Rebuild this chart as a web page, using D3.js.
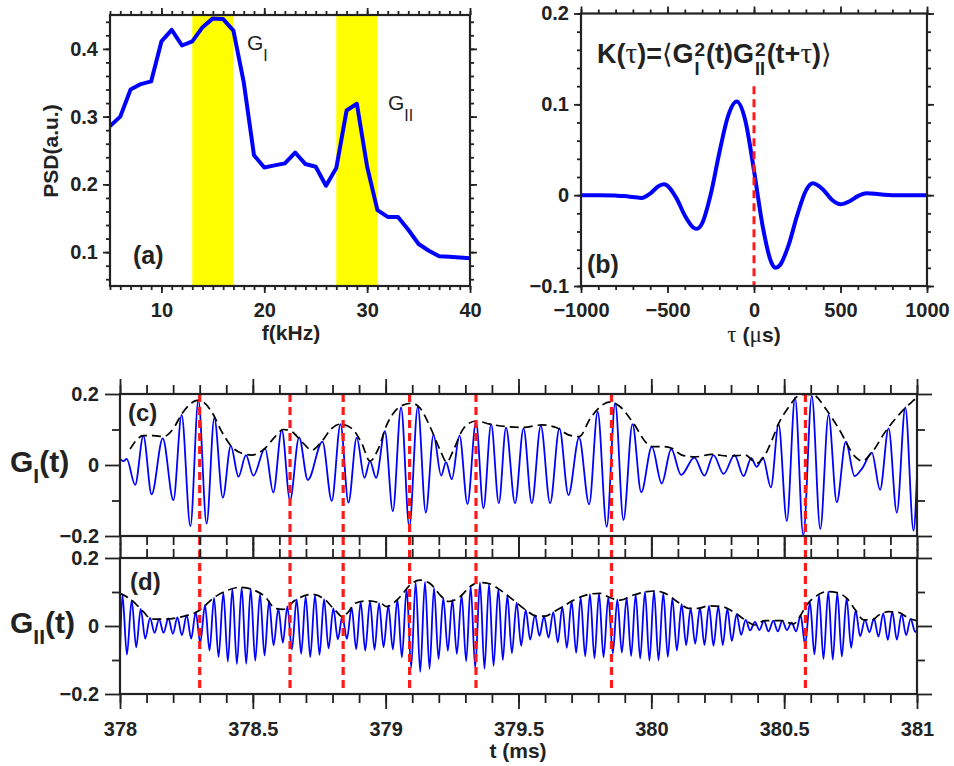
<!DOCTYPE html>
<html>
<head>
<meta charset="utf-8">
<script src="https://cdn.jsdelivr.net/npm/d3@7"></script>
<style>
  body { margin: 0; background: #fff; }
  svg { display: block; }
</style>
</head>
<body>
<script>
// ---------- data ----------
// (a) power spectrum, one point per kHz from 5 to 40
const freq = d3.range(5, 41);
const psd = [0.286, 0.300, 0.340, 0.348, 0.352, 0.411, 0.428, 0.405, 0.411, 0.432,
             0.445, 0.444, 0.427, 0.351, 0.243, 0.225, 0.228, 0.231, 0.247, 0.230,
             0.226, 0.198, 0.224, 0.309, 0.319, 0.226, 0.162, 0.152, 0.152, 0.133,
             0.112, 0.102, 0.094, 0.093, 0.092, 0.091];
const bands = [[13, 17], [27, 31]];
const fTicks = [10, 20, 30, 40];
const psdTicks = [0.1, 0.2, 0.3, 0.4];

// (b) correlation K(tau), tau in microseconds
const tau = [-1000, -900, -800, -750, -700, -650, -600, -550, -520, -450, -400, -350, -330,
             -300, -250, -200, -150, -100, -50, 0, 50, 100, 125, 150, 200, 250, 300, 340,
             400, 450, 500, 550, 600, 650, 700, 750, 800, 900, 1000];
const kVal = [0, 0, -0.0005, -0.001, -0.002, -0.003, 0.0018, 0.0101, 0.012, -0.0027, -0.0223, -0.0357, -0.037,
              -0.031, 0.001, 0.047, 0.087, 0.103, 0.082, 0.027, -0.034, -0.074, -0.080, -0.077, -0.055, -0.022, 0.005, 0.013,
              0.006, -0.005, -0.010, -0.007, -0.001, 0.002, 0.0015, 0.0005, 0, 0, 0];
const tauTicks = [-1000, -500, 0, 500, 1000];
const kTicks = [-0.1, 0, 0.1, 0.2];

// (c),(d) time traces: [t - 378 ms, value] at the turning points
const T0 = 378;
const gI = [[0,0.017],[0.013,0.011],[0.025,0.017],[0.057,-0.056],[0.088,0.082],[0.119,-0.083],[0.161,0.075],[0.201,-0.099],[0.232,0.141],[0.265,-0.172],[0.295,0.183],[0.326,-0.165],[0.355,0.133],[0.387,-0.092],[0.417,0.054],[0.446,-0.033],[0.474,0.028],[0.502,-0.030],[0.546,0.047],[0.577,-0.077],[0.609,0.099],[0.640,-0.099],[0.674,0.078],[0.707,-0.042],[0.762,0.066],[0.797,-0.101],[0.830,0.115],[0.860,-0.106],[0.891,0.077],[0.920,-0.036],[0.941,0.011],[0.964,-0.036],[0.997,0.095],
  [1.027,-0.130],[1.058,0.162],[1.089,-0.174],[1.121,0.164],[1.151,-0.134],[1.180,0.085],[1.209,-0.030],[1.227,0.008],[1.249,-0.040],[1.278,0.083],[1.308,-0.110],[1.340,0.122],[1.368,-0.122],[1.397,0.115],[1.426,-0.108],[1.453,0.105],[1.487,-0.108],[1.519,0.103],[1.550,-0.108],[1.584,0.111],[1.619,-0.108],[1.654,0.103],[1.688,-0.085],[1.728,0.077],[1.766,-0.111],[1.798,0.150],[1.832,-0.174],[1.864,0.174],[1.895,-0.155],[1.929,0.115],[1.962,-0.077],[2.002,0.052],
  [2.039,-0.052],[2.075,0.045],[2.112,-0.028],[2.162,0.021],[2.200,-0.030],[2.234,0.028],[2.272,-0.025],[2.313,0.028],[2.347,-0.031],[2.376,0.019],[2.397,-0.005],[2.420,0.021],[2.450,-0.063],[2.479,0.115],[2.510,-0.158],[2.541,0.190],[2.572,-0.199],[2.604,0.195],[2.636,-0.180],[2.667,0.141],[2.698,-0.105],[2.732,0.066],[2.765,-0.031],[2.795,-0.008],[2.830,0.035],[2.861,-0.070],[2.893,0.103],[2.924,-0.134],[2.956,0.162],[2.987,-0.185],[3.000,-0.028]];

const envI = [[0.038,0.045],[0.088,0.083],[0.126,0.083],[0.163,0.080],[0.201,0.103],[0.232,0.143],[0.295,0.183],[0.345,0.150],[0.383,0.094],[0.420,0.052],[0.458,0.033],[0.496,0.028],[0.546,0.047],[0.584,0.080],[0.615,0.100],[0.646,0.094],[0.684,0.066],[0.722,0.042],[0.759,0.066],[0.797,0.103],[0.828,0.115],[0.872,0.103],[0.910,0.061],[0.941,0.011],[0.973,0.047],[1.004,0.113],[1.029,0.146],[1.060,0.167],[1.098,0.174],[1.130,0.160],[1.167,0.108],[1.205,0.042],[1.230,0.008],[1.255,0.042],[1.293,0.103],[1.340,0.124],[1.393,0.115],[1.456,0.108],[1.519,0.106],[1.588,0.113],[1.644,0.105],[1.688,0.085],[1.728,0.080],[1.770,0.131],[1.807,0.164],[1.845,0.178],[1.883,0.164],[1.933,0.117],[1.983,0.061],[2.002,0.052],[2.039,0.052],[2.077,0.047],[2.115,0.028],[2.165,0.023],[2.228,0.030],[2.290,0.025],[2.353,0.028],[2.397,0.005],[2.422,0.021],[2.454,0.070],[2.478,0.115],[2.516,0.162],[2.554,0.195],[2.579,0.199],[2.611,0.197],[2.655,0.160],[2.705,0.103],[2.768,0.023],[2.793,0.011],[2.830,0.035],[2.881,0.094],[2.931,0.141],[2.981,0.178],[3.000,0.190]];

const gII = [[0,-0.09],
  [0.009,0.092],[0.026,-0.084],[0.044,0.076],[0.061,-0.063],[0.078,0.050],[0.095,-0.037],[0.113,0.024],[0.130,-0.020],[0.147,0.020],[0.164,-0.020],
  [0.182,0.022],[0.199,-0.023],[0.216,0.025],[0.233,-0.027],[0.251,0.032],[0.268,-0.037],[0.285,0.041],[0.302,-0.049],[0.320,0.061],[0.337,-0.072],
  [0.354,0.083],[0.371,-0.091],[0.389,0.098],[0.406,-0.105],[0.423,0.109],[0.440,-0.112],[0.458,0.113],[0.475,-0.111],[0.492,0.109],[0.509,-0.102],
  [0.527,0.094],[0.544,-0.087],[0.561,0.073],[0.578,-0.057],[0.596,0.051],[0.613,-0.049],[0.630,0.058],[0.647,-0.069],[0.665,0.078],[0.682,-0.082],
  [0.699,0.087],[0.716,-0.091],[0.734,0.090],[0.751,-0.085],[0.768,0.079],[0.785,-0.066],[0.803,0.052],[0.820,-0.039],[0.837,0.028],[0.854,-0.038],
  [0.872,0.054],[0.889,-0.068],[0.906,0.070],[0.923,-0.072],[0.941,0.073],[0.958,-0.070],[0.975,0.067],[0.992,-0.062],[1.010,0.060],[1.027,-0.069],
  [1.044,0.078],[1.061,-0.092],[1.079,0.109],[1.096,-0.122],[1.113,0.129],[1.130,-0.135],[1.148,0.130],[1.165,-0.126],[1.182,0.112],[1.199,-0.097],
  [1.217,0.083],[1.234,-0.073],[1.251,0.077],[1.268,-0.082],[1.286,0.091],[1.303,-0.104],[1.320,0.117],[1.337,-0.123],[1.355,0.128],[1.372,-0.126],
  [1.389,0.124],[1.406,-0.117],[1.424,0.109],[1.441,-0.100],[1.458,0.090],[1.475,-0.080],[1.493,0.069],[1.510,-0.058],[1.527,0.047],[1.544,-0.040],
  [1.562,0.032],[1.579,-0.029],[1.596,0.029],[1.613,-0.034],[1.631,0.041],[1.648,-0.048],[1.665,0.056],[1.682,-0.064],[1.700,0.073],[1.717,-0.079],
  [1.734,0.084],[1.751,-0.089],[1.769,0.094],[1.786,-0.095],[1.803,0.096],[1.820,-0.092],[1.838,0.085],[1.855,-0.081],[1.872,0.078],[1.889,-0.078],
  [1.907,0.083],[1.924,-0.088],[1.941,0.093],[1.958,-0.096],[1.976,0.100],[1.993,-0.102],[2.010,0.103],[2.027,-0.101],[2.045,0.097],[2.062,-0.091],
  [2.079,0.081],[2.096,-0.072],[2.114,0.064],[2.131,-0.056],[2.148,0.052],[2.165,-0.052],[2.183,0.053],[2.200,-0.056],[2.217,0.059],[2.234,-0.058],
  [2.252,0.058],[2.269,-0.056],[2.286,0.050],[2.303,-0.044],[2.321,0.035],[2.338,-0.026],[2.355,0.018],[2.372,-0.013],[2.390,0.012],[2.407,-0.012],
  [2.424,0.016],[2.441,-0.016],[2.459,0.016],[2.476,-0.016],[2.493,0.016],[2.510,-0.012],[2.528,0.010],[2.545,-0.016],[2.562,0.031],[2.579,-0.055],
  [2.597,0.071],[2.614,-0.084],[2.631,0.091],[2.648,-0.097],[2.666,0.101],[2.683,-0.099],[2.700,0.098],[2.717,-0.090],[2.735,0.082],[2.752,-0.064],
  [2.769,0.046],[2.786,-0.030],[2.804,0.018],[2.821,-0.018],[2.838,0.022],[2.855,-0.031],[2.873,0.037],[2.890,-0.041],[2.907,0.042],[2.924,-0.040],
  [2.942,0.035],[2.959,-0.027],[2.976,0.021],[2.993,-0.017],[3.000,-0.012]];

const envII = [[0.000,0.096],[0.044,0.076],[0.088,0.042],[0.119,0.020],[0.169,0.020],[0.232,0.027],[0.295,0.044],[0.358,0.086],[0.408,0.106],[0.452,0.114],[0.496,0.108],[0.546,0.086],[0.584,0.052],[0.615,0.049],[0.659,0.076],[0.722,0.093],[0.766,0.081],[0.809,0.047],[0.838,0.027],[0.860,0.042],[0.885,0.067],[0.935,0.074],[0.985,0.065],[1.004,0.057],[1.042,0.076],[1.060,0.091],[1.092,0.121],[1.129,0.135],[1.167,0.125],[1.211,0.086],[1.236,0.072],[1.280,0.086],[1.318,0.116],[1.349,0.128],[1.387,0.125],[1.431,0.106],[1.481,0.076],[1.531,0.045],[1.569,0.029],[1.600,0.029],[1.638,0.044],[1.663,0.055],[1.707,0.076],[1.770,0.094],[1.807,0.096],[1.845,0.083],[1.883,0.076],[1.933,0.091],[1.983,0.101],[2.014,0.103],[2.052,0.096],[2.102,0.069],[2.140,0.052],[2.177,0.052],[2.215,0.059],[2.265,0.057],[2.309,0.042],[2.353,0.018],[2.390,0.003],[2.428,0.016],[2.491,0.016],[2.535,0.006],[2.560,0.029],[2.585,0.062],[2.617,0.086],[2.661,0.101],[2.699,0.098],[2.736,0.081],[2.768,0.047],[2.799,0.018],[2.831,0.018],[2.856,0.032],[2.893,0.042],[2.931,0.040],[2.968,0.023],[2.999,0.016]];

const markTimes = [378.30, 378.64, 378.84, 379.09, 379.34, 379.85, 380.58];
const tTicks = [378, 378.5, 379, 379.5, 380, 380.5, 381];
const gTicks = [-0.2, 0, 0.2];

// ---------- setup ----------
const FONT = "'Liberation Sans', Arial, Helvetica, sans-serif";
const SERIF = "'Liberation Serif', 'DejaVu Serif', serif";
const BRACKET = "'DejaVu Sans', sans-serif";
const INK = "#222";
const BLUE = "#0000ff";
const RED = "#ff1a1a";

const svg = d3.select("body").append("svg").attr("width", 954).attr("height", 766);
svg.append("rect").attr("width", 954).attr("height", 766).attr("fill", "#fff");

const fmt1 = v => v === 0 ? "0" : d3.format(".1f")(v);

// ticks on one side of a frame
function side(scale, orient, values, len, labels, fmt, pad, pos) {
  const mk = { bottom: d3.axisBottom, top: d3.axisTop, left: d3.axisLeft, right: d3.axisRight }[orient];
  const ax = mk(scale).tickValues(values).tickSize(len).tickPadding(pad)
                      .tickFormat(labels ? fmt : () => "");
  const tr = (orient === "bottom" || orient === "top") ? `translate(0,${pos})` : `translate(${pos},0)`;
  const a = svg.append("g").attr("transform", tr).call(ax);
  a.select(".domain").remove();
  a.selectAll("line").attr("stroke", INK).attr("stroke-width", 1.8);
  a.selectAll("text").attr("font-family", FONT).attr("font-size", 20)
   .attr("font-weight", "bold").attr("fill", INK);
}

function frame(x, y) {
  const [x0, x1] = x.range(), [y0, y1] = y.range();
  svg.append("rect").attr("x", x0).attr("y", y1).attr("width", x1 - x0).attr("height", y0 - y1)
     .attr("fill", "none").attr("stroke", INK).attr("stroke-width", 2.2);
}

function clipFor(id, x, y) {
  const [x0, x1] = x.range(), [y0, y1] = y.range();
  svg.append("clipPath").attr("id", id).append("rect")
     .attr("x", x0).attr("y", y1 - 2).attr("width", x1 - x0).attr("height", y0 - y1 + 4);
  return `url(#${id})`;
}

// sequence of text pieces, some stacked (sup over sub)
function runs(items) {
  const g = svg.append("g");
  let cx = 0;
  items.forEach(it => {
    const parts = it.stack || [it];
    let w = 0;
    parts.forEach(p => {
      const t = g.append("text").attr("x", cx).attr("y", p.dy || 0)
        .attr("font-family", p.family || FONT).attr("font-size", p.size)
        .attr("font-weight", p.weight || "bold").attr("fill", INK).text(p.text);
      w = Math.max(w, t.node().getComputedTextLength());
    });
    cx += w + (it.gap || 0);
  });
  return { g, width: cx };
}

function label(txt, x, y, size, anchor) {
  return svg.append("text").attr("x", x).attr("y", y).attr("text-anchor", anchor || "start")
    .attr("font-family", FONT).attr("font-size", size).attr("font-weight", "bold")
    .attr("fill", INK).text(txt);
}

// ---------- (a) ----------
const xA = d3.scaleLinear().domain([5, 40]).range([110, 470]);
const yA = d3.scaleLinear().domain([0.05, 0.45]).range([286, 15]);

svg.selectAll("rect.band").data(bands).enter().append("rect")
   .attr("x", d => xA(d[0])).attr("width", d => xA(d[1]) - xA(d[0]))
   .attr("y", yA(0.45)).attr("height", yA(0.05) - yA(0.45)).attr("fill", "#ffff00");

svg.append("path").datum(freq.map((f, i) => [f, psd[i]]))
   .attr("clip-path", clipFor("ca", xA, yA))
   .attr("d", d3.line().x(d => xA(d[0])).y(d => yA(d[1])))
   .attr("fill", "none").attr("stroke", BLUE).attr("stroke-width", 4).attr("stroke-linejoin", "round");

frame(xA, yA);
const fMinor = d3.range(5, 41);
const psdMinor = d3.range(0.06, 0.45, 0.02).map(v => +v.toFixed(2));
side(xA, "bottom", fMinor, 4, false, null, 0, 286);
side(xA, "top", fMinor, 4, false, null, 0, 15);
side(xA, "bottom", fTicks, 7, true, d3.format("d"), 10, 286);
side(xA, "top", fTicks, 7, false, null, 0, 15);
side(yA, "left", psdMinor, 4, false, null, 0, 110);
side(yA, "right", psdMinor, 4, false, null, 0, 470);
side(yA, "left", psdTicks, 7, true, fmt1, 5, 110);
side(yA, "right", psdTicks, 7, false, null, 0, 470);

label("f(kHz)", 291, 340, 21, "middle");
label("PSD(a.u.)", 0, 0, 21, "middle").attr("transform", "translate(58,151) rotate(-90)");
label("(a)", 133, 264, 25);
{
  const r1 = runs([{ text: "G", size: 21, weight: "normal" }, { text: "I", size: 16, weight: "normal", dy: 11 }]);
  r1.g.attr("transform", "translate(247,50)");
  const r2 = runs([{ text: "G", size: 21, weight: "normal" }, { text: "II", size: 16, weight: "normal", dy: 11 }]);
  r2.g.attr("transform", "translate(388,110)");
}

// ---------- (b) ----------
const xB = d3.scaleLinear().domain([-1000, 1000]).range([581, 927]);
const yB = d3.scaleLinear().domain([-0.1, 0.2]).range([286, 13.5]);

svg.append("path").datum(tau.map((t, i) => [t, kVal[i]]))
   .attr("clip-path", clipFor("cb", xB, yB))
   .attr("d", d3.line().x(d => xB(d[0])).y(d => yB(d[1])).curve(d3.curveMonotoneX))
   .attr("fill", "none").attr("stroke", BLUE).attr("stroke-width", 4);

svg.append("line").attr("x1", xB(0)).attr("x2", xB(0)).attr("y1", yB(0.12)).attr("y2", yB(-0.1))
   .attr("stroke", RED).attr("stroke-width", 3).attr("stroke-dasharray", "8,5");

frame(xB, yB);
const tauMinor = d3.range(-1000, 1001, 100);
const kMinor = d3.range(-0.1, 0.201, 0.02).map(v => +v.toFixed(2));
side(xB, "bottom", tauMinor, 4, false, null, 0, 286);
side(xB, "top", tauMinor, 4, false, null, 0, 13.5);
side(xB, "bottom", tauTicks, 7, true, d3.format("d"), 10, 286);
side(xB, "top", tauTicks, 7, false, null, 0, 13.5);
side(yB, "left", kMinor, 4, false, null, 0, 581);
side(yB, "right", kMinor, 4, false, null, 0, 927);
side(yB, "left", kTicks, 7, true, fmt1, 5, 581);
side(yB, "right", kTicks, 7, false, null, 0, 927);

label("(b)", 587, 273, 25);
{
  const tauLbl = runs([
    { text: "\u03c4", size: 23, weight: "normal", family: SERIF, gap: 6 },
    { text: "(", size: 21 },
    { text: "\u03bc", size: 23, weight: "normal", family: SERIF },
    { text: "s)", size: 21 }]);
  tauLbl.g.attr("transform", `translate(${754 - tauLbl.width / 2},342)`);

  const sup = (t) => ({ text: t, size: 19, dy: -7 });
  const sub = (t) => ({ text: t, size: 18, dy: 12 });
  const K = runs([
    { text: "K(", size: 27 },
    { text: "\u03c4", size: 29, weight: "normal", family: SERIF },
    { text: ")=", size: 27 },
    { text: "\u27e8", size: 27, weight: "normal", family: BRACKET },
    { text: "G", size: 27, gap: 1 },
    { stack: [sup("2"), sub("I")], gap: 1 },
    { text: "(t)G", size: 27, gap: 1 },
    { stack: [sup("2"), sub("II")], gap: 1 },
    { text: "(t+", size: 27 },
    { text: "\u03c4", size: 29, weight: "normal", family: SERIF },
    { text: ")", size: 27 },
    { text: "\u27e9", size: 27, weight: "normal", family: BRACKET },
  ]);
  K.g.attr("transform", "translate(597,63)");
}

// ---------- (c) and (d) ----------
const xT = d3.scaleLinear().domain([378, 381]).range([120, 917]);
const yC = d3.scaleLinear().domain([-0.2, 0.2]).range([536, 394]);
const yD = d3.scaleLinear().domain([-0.2, 0.2]).range([694, 558]);
const tMinor = d3.range(378, 381.001, 0.1).map(v => +v.toFixed(1));
const gMinor = [-0.1, 0.1];

function trace(y, sig, env, id) {
  const clip = clipFor(id, xT, y);
  svg.append("path").datum(sig).attr("clip-path", clip)
     .attr("d", d3.line().x(d => xT(T0 + d[0])).y(d => y(d[1])).curve(d3.curveMonotoneX))
     .attr("fill", "none").attr("stroke", BLUE).attr("stroke-width", 1.8);
  svg.append("path").datum(env).attr("clip-path", clip)
     .attr("d", d3.line().x(d => xT(T0 + d[0])).y(d => y(d[1])).curve(d3.curveMonotoneX))
     .attr("fill", "none").attr("stroke", "#000").attr("stroke-width", 1.7)
     .attr("stroke-dasharray", "9,5");
}
trace(yC, gI, envI, "cc");
trace(yD, gII, envII, "cd");

svg.selectAll("line.mark").data(markTimes).enter().append("line")
   .attr("x1", d => xT(d)).attr("x2", d => xT(d))
   .attr("y1", yC(0.2)).attr("y2", yD(-0.2))
   .attr("stroke", RED).attr("stroke-width", 3.2).attr("stroke-dasharray", "8,5");

[yC, yD].forEach((y, k) => {
  frame(xT, y);
  const top = y.range()[1], bot = y.range()[0];
  side(xT, "top", tMinor, 9, false, null, 0, top);
  side(xT, "bottom", tMinor, 9, false, null, 0, bot);
  side(xT, "top", tTicks, 15, false, null, 0, top);
  side(xT, "bottom", tTicks, 15, k === 1, d => d % 1 === 0 ? d3.format("d")(d) : d3.format(".1f")(d), 13, bot);
  side(y, "left", gMinor, 8, false, null, 0, 120);
  side(y, "right", gMinor, 8, false, null, 0, 917);
  side(y, "left", gTicks, 15, true, fmt1, 6, 120);
  side(y, "right", gTicks, 15, false, null, 0, 917);
});

label("(c)", 128, 421, 24);
label("(d)", 130, 590, 24);
label("t (ms)", 518, 758, 21, "middle");
{
  const a = runs([{ text: "G", size: 30 }, { text: "I", size: 21, dy: 11 }, { text: "(t)", size: 30 }]);
  a.g.attr("transform", "translate(10,472)");
  const b = runs([{ text: "G", size: 30 }, { text: "II", size: 21, dy: 11 }, { text: "(t)", size: 30 }]);
  b.g.attr("transform", "translate(10,633)");
}
</script>
</body>
</html>
